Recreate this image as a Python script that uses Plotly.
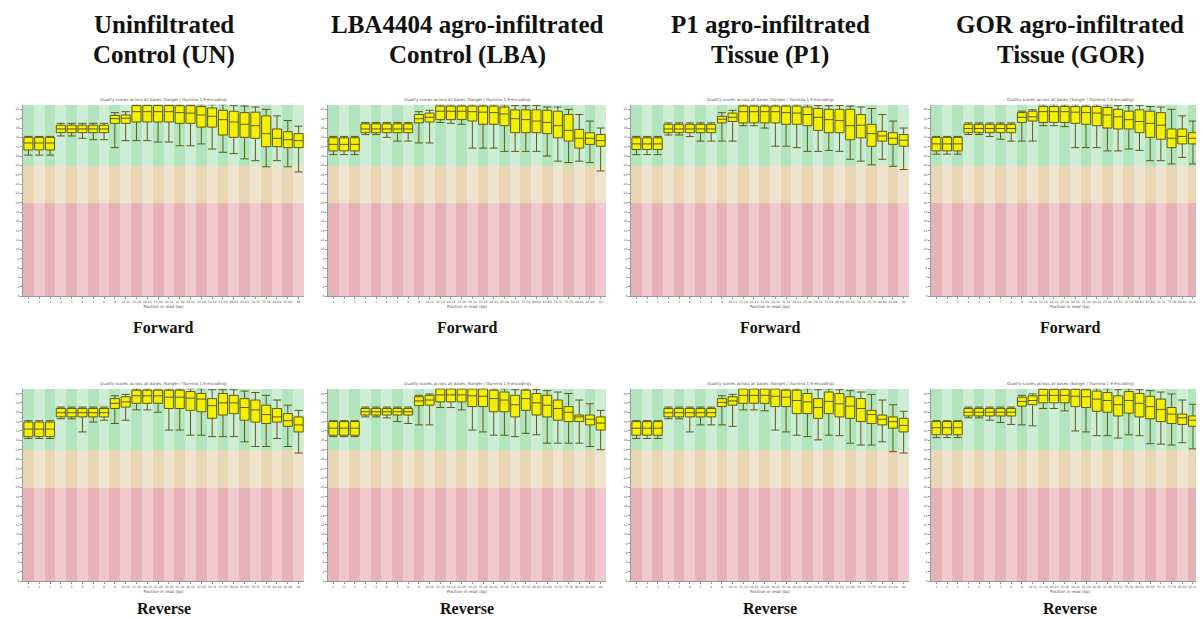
import plotly.graph_objects as go

# ---------------- data ----------------
positions = ["1", "2", "3", "4", "5", "6", "7", "8", "9",
             "10-14", "15-19", "20-24", "25-29", "30-34", "35-39", "40-44",
             "45-49", "50-54", "55-59", "60-64", "65-69", "70-74", "75-79",
             "80-84", "85-89", "90"]

title_line1 = ["Uninfiltrated", "LBA4404 agro-infiltrated", "P1 agro-infiltrated", "GOR agro-infiltrated"]
title_line2 = ["Control (UN)", "Control (LBA)", "Tissue (P1)", "Tissue (GOR)"]
row_labels = ["Forward", "Reverse"]
panel_title = "Quality scores across all bases (Sanger / Illumina 1.9 encoding)"
x_axis_title = "Position in read (bp)"
y_ticks = list(range(0, 42, 2))

# quality bands (Phred score)
band_red = [0, 20]
band_orange = [20, 28]
band_green = [28, 41]

# Forward reads
UN_F_q1 = [31.3,31.3,31.3,35.0,35.0,35.0,35.0,35.0,37.0,37.0,37.3,37.3,37.3,37.3,37.0,37.0,36.2,36.2,34.5,34.0,34.0,33.8,32.0,32.0,31.8,31.8]
UN_F_med = [32.8,32.8,32.8,35.8,35.8,35.8,35.8,35.8,38.0,38.1,39.5,39.5,39.5,39.5,39.3,39.2,38.8,38.5,37.8,37.3,36.8,36.5,34.8,33.8,33.5,33.3]
UN_F_q3 = [34.0,34.0,34.0,36.6,36.6,36.6,36.6,36.6,38.7,38.8,40.8,40.8,40.8,40.8,40.8,40.8,40.6,40.3,39.8,39.6,39.3,39.4,38.6,35.8,35.2,34.8]
UN_F_low = [30.2,30.2,30.2,34.3,34.3,33.8,33.5,33.5,31.8,33.3,33.3,33.3,33.0,33.0,32.2,32.2,32.6,31.5,30.8,30.5,29.4,29.0,27.7,29.0,27.7,26.6]
UN_F_high = [34.2,34.2,34.2,37.0,37.0,37.0,37.0,37.0,39.3,39.5,41.0,41.0,41.0,41.0,41.0,41.0,41.0,41.0,41.0,40.8,40.7,40.5,40.0,38.6,37.6,36.4]

LBA_F_q1 = [31.1,31.1,31.1,35.0,35.0,35.0,35.0,35.0,37.1,37.3,37.8,37.8,37.8,37.5,36.8,36.8,36.5,35.0,35.0,35.0,34.8,33.9,33.2,31.7,32.5,32.1]
LBA_F_med = [32.5,32.5,32.5,35.8,35.8,35.8,35.8,35.8,38.0,38.3,39.6,39.6,39.6,39.5,39.4,39.3,39.0,38.0,37.8,37.5,37.2,36.5,35.5,33.8,33.8,33.3]
LBA_F_q3 = [33.9,33.9,33.9,36.9,36.9,36.9,36.9,36.9,38.9,39.2,40.7,40.7,40.7,40.7,40.7,40.7,40.5,39.9,39.9,39.9,39.8,39.6,38.9,35.7,35.0,34.6]
LBA_F_low = [30.3,30.3,30.3,34.6,34.6,34.0,33.2,33.2,32.8,32.8,37.2,37.0,36.8,31.7,31.7,31.7,31.0,31.0,31.0,31.0,30.0,28.9,28.6,28.9,28.6,26.8]
LBA_F_high = [34.2,34.2,34.2,37.2,37.2,37.2,37.2,37.2,39.5,39.8,41.0,41.0,41.0,41.0,41.0,41.0,41.0,40.8,40.8,40.8,40.5,40.5,40.0,38.9,37.5,36.0]

P1_F_q1 = [31.4,31.4,31.4,35.0,35.0,35.0,35.0,35.0,37.1,37.4,37.1,37.1,37.1,37.1,36.8,36.8,36.5,35.5,35.0,35.0,33.5,33.9,32.1,33.2,32.5,32.1]
P1_F_med = [32.6,32.6,32.6,35.8,35.8,35.8,35.8,35.8,37.9,38.3,39.5,39.5,39.5,39.5,39.3,39.2,38.9,38.3,37.8,37.6,36.5,36.6,34.8,34.3,33.8,33.4]
P1_F_q3 = [33.9,33.9,33.9,36.8,36.8,36.8,36.8,36.8,38.5,39.2,40.7,40.7,40.7,40.7,40.7,40.7,40.5,40.2,40.0,40.0,40.0,38.9,36.8,35.3,35.0,34.6]
P1_F_low = [30.3,30.3,30.3,34.5,34.5,34.2,33.2,33.2,33.2,33.2,36.5,36.5,36.0,32.1,32.1,31.8,31.0,31.0,31.2,31.0,29.3,28.9,28.1,29.3,27.8,27.1]
P1_F_high = [34.2,34.2,34.2,37.1,37.1,37.1,37.1,37.1,39.3,39.8,41.0,41.0,41.0,41.0,41.0,41.0,41.0,40.8,40.8,40.8,40.7,40.5,40.2,38.9,37.5,36.0]

GOR_F_q1 = [31.1,31.1,31.1,35.0,35.0,35.0,35.0,35.0,37.2,37.5,37.2,37.2,37.2,37.0,36.8,36.5,36.0,35.8,35.8,35.0,34.0,33.6,31.8,32.6,32.6,32.6]
GOR_F_med = [32.6,32.6,32.6,35.9,35.9,35.9,35.9,35.9,38.3,38.4,39.5,39.5,39.5,39.4,39.3,39.2,38.8,38.4,37.8,37.4,37.0,36.6,33.8,34.2,33.8,33.6]
GOR_F_q3 = [34.0,34.0,34.0,36.8,36.8,36.8,36.8,36.8,39.3,39.6,40.6,40.6,40.6,40.6,40.6,40.6,40.4,40.0,39.6,39.9,39.6,39.3,35.8,35.8,35.0,34.7]
GOR_F_low = [30.4,30.4,30.4,34.6,34.6,34.2,33.6,33.2,33.2,33.2,36.5,36.5,36.3,31.8,31.8,31.8,31.1,31.1,31.5,31.2,29.0,29.0,28.3,29.7,28.3,25.4]
GOR_F_high = [34.2,34.2,34.2,37.1,37.1,37.1,37.1,37.1,39.6,39.9,41.0,41.0,41.0,41.0,41.0,41.0,41.0,40.8,40.8,40.8,40.6,40.5,40.0,38.6,37.5,36.2]

# Reverse reads
UN_R_q1 = [30.8,30.8,30.8,35.0,35.0,35.0,35.0,35.0,36.8,37.1,37.9,37.9,37.9,36.8,36.8,36.4,36.1,34.7,35.4,35.7,34.3,33.9,33.6,33.9,33.0,31.8]
UN_R_med = [32.4,32.4,32.4,35.9,35.9,35.9,35.9,35.9,37.9,38.2,39.5,39.5,39.5,39.2,39.2,39.0,38.8,37.4,38.0,38.0,37.0,36.5,35.5,35.0,34.2,33.3]
UN_R_q3 = [33.9,33.9,33.9,36.8,36.8,36.8,36.8,36.8,38.9,39.3,40.7,40.7,40.7,40.7,40.7,40.4,40.0,38.9,40.0,39.6,38.9,38.6,37.5,36.8,35.7,35.0]
UN_R_low = [30.4,30.4,30.4,34.6,34.6,31.8,33.9,34.3,33.6,34.3,36.5,36.5,36.0,32.2,32.2,31.1,31.1,30.8,30.8,30.8,29.7,28.7,28.7,30.4,28.7,27.3]
UN_R_high = [34.2,34.2,34.2,37.1,37.1,37.1,37.1,37.1,39.5,39.8,41.0,41.0,41.0,41.0,41.0,41.0,41.0,40.8,40.8,40.8,40.5,40.2,39.6,38.6,37.5,36.4]

LBA_R_q1 = [31.1,31.1,31.1,35.4,35.4,35.4,35.4,35.4,37.4,37.5,38.2,38.2,38.2,37.2,37.2,36.1,36.1,35.0,36.4,35.4,35.0,34.3,34.0,34.0,33.3,32.2]
LBA_R_med = [32.6,32.6,32.6,36.1,36.1,36.1,36.1,36.1,38.4,38.6,39.7,39.7,39.7,39.5,39.4,38.9,38.6,37.6,38.9,38.0,37.5,36.8,36.0,35.0,34.5,33.7]
LBA_R_q3 = [34.0,34.0,34.0,36.8,36.8,36.8,36.8,36.8,39.3,39.6,41.0,41.0,41.0,41.0,41.0,40.7,40.3,39.6,40.7,40.0,39.6,38.6,37.2,35.4,35.4,35.0]
LBA_R_low = [30.8,30.8,30.8,35.0,35.0,34.8,34.0,33.6,33.3,33.3,37.0,37.0,36.5,32.2,31.8,31.1,31.1,30.8,31.5,31.2,29.4,29.4,29.4,29.4,28.7,28.0]
LBA_R_high = [34.2,34.2,34.2,37.1,37.1,37.1,37.1,37.1,39.6,39.9,41.0,41.0,41.0,41.0,41.0,41.0,41.0,40.8,41.0,40.8,40.6,40.3,40.0,38.6,37.8,36.4]

P1_R_q1 = [31.1,31.1,31.1,35.0,35.0,35.0,35.0,35.0,37.2,37.5,37.9,37.9,37.9,37.2,37.2,35.7,35.7,34.7,35.7,35.0,34.7,34.0,33.6,33.3,32.6,31.8]
P1_R_med = [32.6,32.6,32.6,35.9,35.9,35.9,35.9,35.9,38.1,38.4,39.6,39.6,39.6,39.4,39.2,38.5,38.2,37.0,38.3,37.8,37.3,36.8,35.5,34.5,34.0,33.2]
P1_R_q3 = [34.0,34.0,34.0,36.8,36.8,36.8,36.8,36.8,38.9,39.3,41.0,41.0,41.0,41.0,40.7,40.7,40.0,38.9,40.3,40.0,39.3,38.9,36.4,35.4,35.0,34.7]
P1_R_low = [30.4,30.4,30.4,34.6,34.6,31.8,33.3,33.3,33.3,33.0,36.5,36.5,36.3,32.2,31.8,31.1,30.8,30.1,31.1,31.0,29.4,29.0,29.0,29.7,27.6,27.3]
P1_R_high = [34.2,34.2,34.2,37.1,37.1,37.1,37.1,37.1,39.5,39.8,41.0,41.0,41.0,41.0,41.0,41.0,41.0,40.8,41.0,40.8,40.6,40.3,39.8,38.6,37.6,36.2]

GOR_R_q1 = [31.2,31.2,31.2,35.2,35.2,35.2,35.2,35.2,37.3,37.6,38.0,38.0,38.0,37.2,37.0,36.2,36.0,35.2,35.8,35.0,34.6,34.0,33.6,33.4,33.0,32.0]
GOR_R_med = [32.7,32.7,32.7,36.0,36.0,36.0,36.0,36.0,38.3,38.5,39.6,39.6,39.6,39.4,39.3,38.8,38.5,37.6,38.5,37.9,37.2,36.6,35.6,34.8,34.3,33.5]
GOR_R_q3 = [34.0,34.0,34.0,36.8,36.8,36.8,36.8,36.8,39.2,39.5,40.9,40.9,40.9,40.9,40.8,40.5,40.2,39.5,40.4,40.0,39.4,38.8,37.0,35.6,35.2,34.8]
GOR_R_low = [30.6,30.6,30.6,34.8,34.8,34.3,33.8,33.4,33.3,33.1,36.8,36.8,36.3,32.0,31.8,31.0,31.0,30.5,31.2,31.0,29.3,29.2,29.0,29.5,28.2,27.2]
GOR_R_high = [34.2,34.2,34.2,37.1,37.1,37.1,37.1,37.1,39.6,39.9,41.0,41.0,41.0,41.0,41.0,41.0,41.0,40.8,41.0,40.8,40.6,40.3,39.9,38.6,37.7,36.3]

panels = [
    (UN_F_q1, UN_F_med, UN_F_q3, UN_F_low, UN_F_high),
    (LBA_F_q1, LBA_F_med, LBA_F_q3, LBA_F_low, LBA_F_high),
    (P1_F_q1, P1_F_med, P1_F_q3, P1_F_low, P1_F_high),
    (GOR_F_q1, GOR_F_med, GOR_F_q3, GOR_F_low, GOR_F_high),
    (UN_R_q1, UN_R_med, UN_R_q3, UN_R_low, UN_R_high),
    (LBA_R_q1, LBA_R_med, LBA_R_q3, LBA_R_low, LBA_R_high),
    (P1_R_q1, P1_R_med, P1_R_q3, P1_R_low, P1_R_high),
    (GOR_R_q1, GOR_R_med, GOR_R_q3, GOR_R_low, GOR_R_high),
]

# ---------------- layout geometry (pixels) ----------------
W, H = 1204, 619
col_left = [15, 320, 623, 923]
col_right = [296, 598, 901, 1201]
row_top = [97, 382]
row_bottom = [289, 575]

def px_x(p):
    return p / W

def px_y(p):
    return 1 - p / H

green_cols = ["#B2E5BE", "#CDEED5"]
orange_cols = ["#E8D6B4", "#EFE3CD"]
red_cols = ["#E6B2B8", "#EFC9CB"]

def alt(cols):
    return [cols[i % 2] for i in range(len(positions))]

fig = go.Figure()
layout_axes = {}
annotations = []

for i, (q1, med, q3, low, high) in enumerate(panels):
    r, c = divmod(i, 4)
    n = i + 1
    xa = "x" if n == 1 else f"x{n}"
    ya = "y" if n == 1 else f"y{n}"
    for (b0, b1), cols in ((band_red, red_cols), (band_orange, orange_cols), (band_green, green_cols)):
        fig.add_trace(go.Bar(
            x=positions, y=[b1 - b0] * len(positions), base=[b0] * len(positions),
            width=1, marker=dict(color=alt(cols), line=dict(width=0)),
            xaxis=xa, yaxis=ya, showlegend=False, hoverinfo="skip"))
    fig.add_trace(go.Box(
        x=positions, q1=q1, median=med, q3=q3, lowerfence=low, upperfence=high,
        width=0.84, whiskerwidth=0.9, fillcolor="#F4F000",
        line=dict(color="#5E5A18", width=1), boxpoints=False,
        xaxis=xa, yaxis=ya, showlegend=False))

    xkey = "xaxis" if n == 1 else f"xaxis{n}"
    ykey = "yaxis" if n == 1 else f"yaxis{n}"
    layout_axes[xkey] = dict(
        domain=[px_x(col_left[c]), px_x(col_right[c])], anchor=ya,
        type="category", categoryorder="array", categoryarray=positions,
        range=[-0.5, len(positions) - 0.5],
        showgrid=False, zeroline=False, showline=True, linecolor="#9a9a9a", linewidth=1,
        ticks="outside", ticklen=2, tickcolor="#999", tickangle=0,
        tickfont=dict(size=3, color="#555", family="DejaVu Sans"),
        title=dict(text=x_axis_title, font=dict(size=4, color="#555", family="DejaVu Sans"), standoff=2),
    )
    layout_axes[ykey] = dict(
        domain=[px_y(row_bottom[r]), px_y(row_top[r])], anchor=xa,
        range=[0, 41], tickvals=y_ticks, showgrid=False, zeroline=False,
        showline=True, linecolor="#9a9a9a", linewidth=1,
        ticks="outside", ticklen=2, tickcolor="#999",
        tickfont=dict(size=3, color="#555", family="DejaVu Sans"),
    )
    # small FastQC title above each panel
    annotations.append(dict(
        text=panel_title, x=px_x((col_left[c] + col_right[c]) / 2), y=px_y(row_top[r] - 5),
        xref="paper", yref="paper", showarrow=False, xanchor="center", yanchor="middle",
        font=dict(size=4, color="#555", family="DejaVu Sans")))

# column titles and row labels
for c in range(4):
    cx = px_x((col_left[c] + col_right[c]) / 2)
    for txt, ypx in ((title_line1[c], 17), (title_line2[c], 47)):
        annotations.append(dict(
            text=f"<b>{txt}</b>", x=cx, y=px_y(ypx),
            xref="paper", yref="paper", showarrow=False, xanchor="center", yanchor="middle",
            font=dict(size=25, color="#111", family="Liberation Serif")))
    for r, lab in enumerate(row_labels):
        ylab = 321 if r == 0 else 602
        annotations.append(dict(
            text=f"<b>{lab}</b>", x=cx, y=px_y(ylab),
            xref="paper", yref="paper", showarrow=False, xanchor="center", yanchor="middle",
            font=dict(size=16, color="#111", family="Liberation Serif")))

fig.update_layout(
    width=W, height=H, margin=dict(l=0, r=0, t=0, b=0),
    paper_bgcolor="white", plot_bgcolor="white",
    barmode="overlay", boxmode="overlay", bargap=0,
    annotations=annotations, showlegend=False,
    **layout_axes,
)

fig.write_html("out.html", config={"displayModeBar": False})
